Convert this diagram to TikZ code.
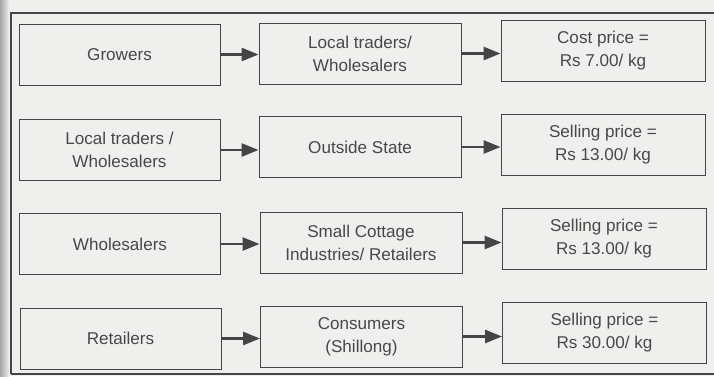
\documentclass[tikz,border=0pt]{standalone}
\usepackage{fontspec}
\setmainfont{Liberation Sans}
\usetikzlibrary{arrows.meta}
\definecolor{bg}{HTML}{EFEFED}
\definecolor{ink}{HTML}{454545}
\definecolor{txt}{HTML}{484848}
\tikzset{
  box/.style={draw=ink, line width=0.9pt, minimum width=201pt, minimum height=61pt,
    inner sep=0pt, align=center, text=txt,
    font=\fontsize{17.1pt}{23pt}\selectfont},
  flow/.style={draw=ink, line width=2.6pt, -{Triangle[length=17pt,width=13pt]}},
  frame/.style={draw=ink, line width=1.1pt}
}
\begin{document}
\begin{tikzpicture}[x=1pt,y=-1pt]
\useasboundingbox (0,0) rectangle (714,376);
\fill[bg] (0,0) rectangle (714,376);
\shade[left color=black!35, right color=bg] (0,0) rectangle (9,376);
% outer frame
\coordinate (fbl) at (11,374);
\coordinate (ftl) at (11,13);
\coordinate (ftr) at (714,13);
\coordinate (fbr) at (714,374);
\draw[frame] (fbl) -- (ftl) -- (ftr);
\draw[frame] (fbl) -- (fbr);
% row 1
\node[box] (a1) at (119.5,54.5) {Growers};
\node[box, minimum width=202pt] (b1) at (360,53.5) {Local traders/\\Wholesalers};
\node[box, minimum width=204pt] (c1) at (603,51) {Cost price =\\Rs 7.00/ kg};
% row 2
\node[box] (a2) at (119.5,150) {Local traders /\\Wholesalers};
\node[box, minimum width=202pt] (b2) at (360,147) {Outside State};
\node[box, minimum width=204pt] (c2) at (603,144.5) {Selling price =\\Rs 13.00/ kg};
% row 3
\node[box] (a3) at (120,244) {Wholesalers};
\node[box, minimum width=202pt] (b3) at (361,242.5) {Small Cottage\\Industries/ Retailers};
\node[box, minimum width=204pt] (c3) at (604,239) {Selling price =\\Rs 13.00/ kg};
% row 4
\node[box] (a4) at (120.5,338.5) {Retailers};
\node[box, minimum width=202pt] (b4) at (361.5,336.5) {Consumers\\(Shillong)};
\node[box, minimum width=204pt] (c4) at (604.5,332.5) {Selling price =\\Rs 30.00/ kg};
% arrows
\foreach \r in {1,2,3,4}{
  \draw[flow] (a\r.east) -- (a\r.east -| b\r.west);
  \draw[flow] (b\r.east) -- (b\r.east -| c\r.west);
}
\end{tikzpicture}
\end{document}
